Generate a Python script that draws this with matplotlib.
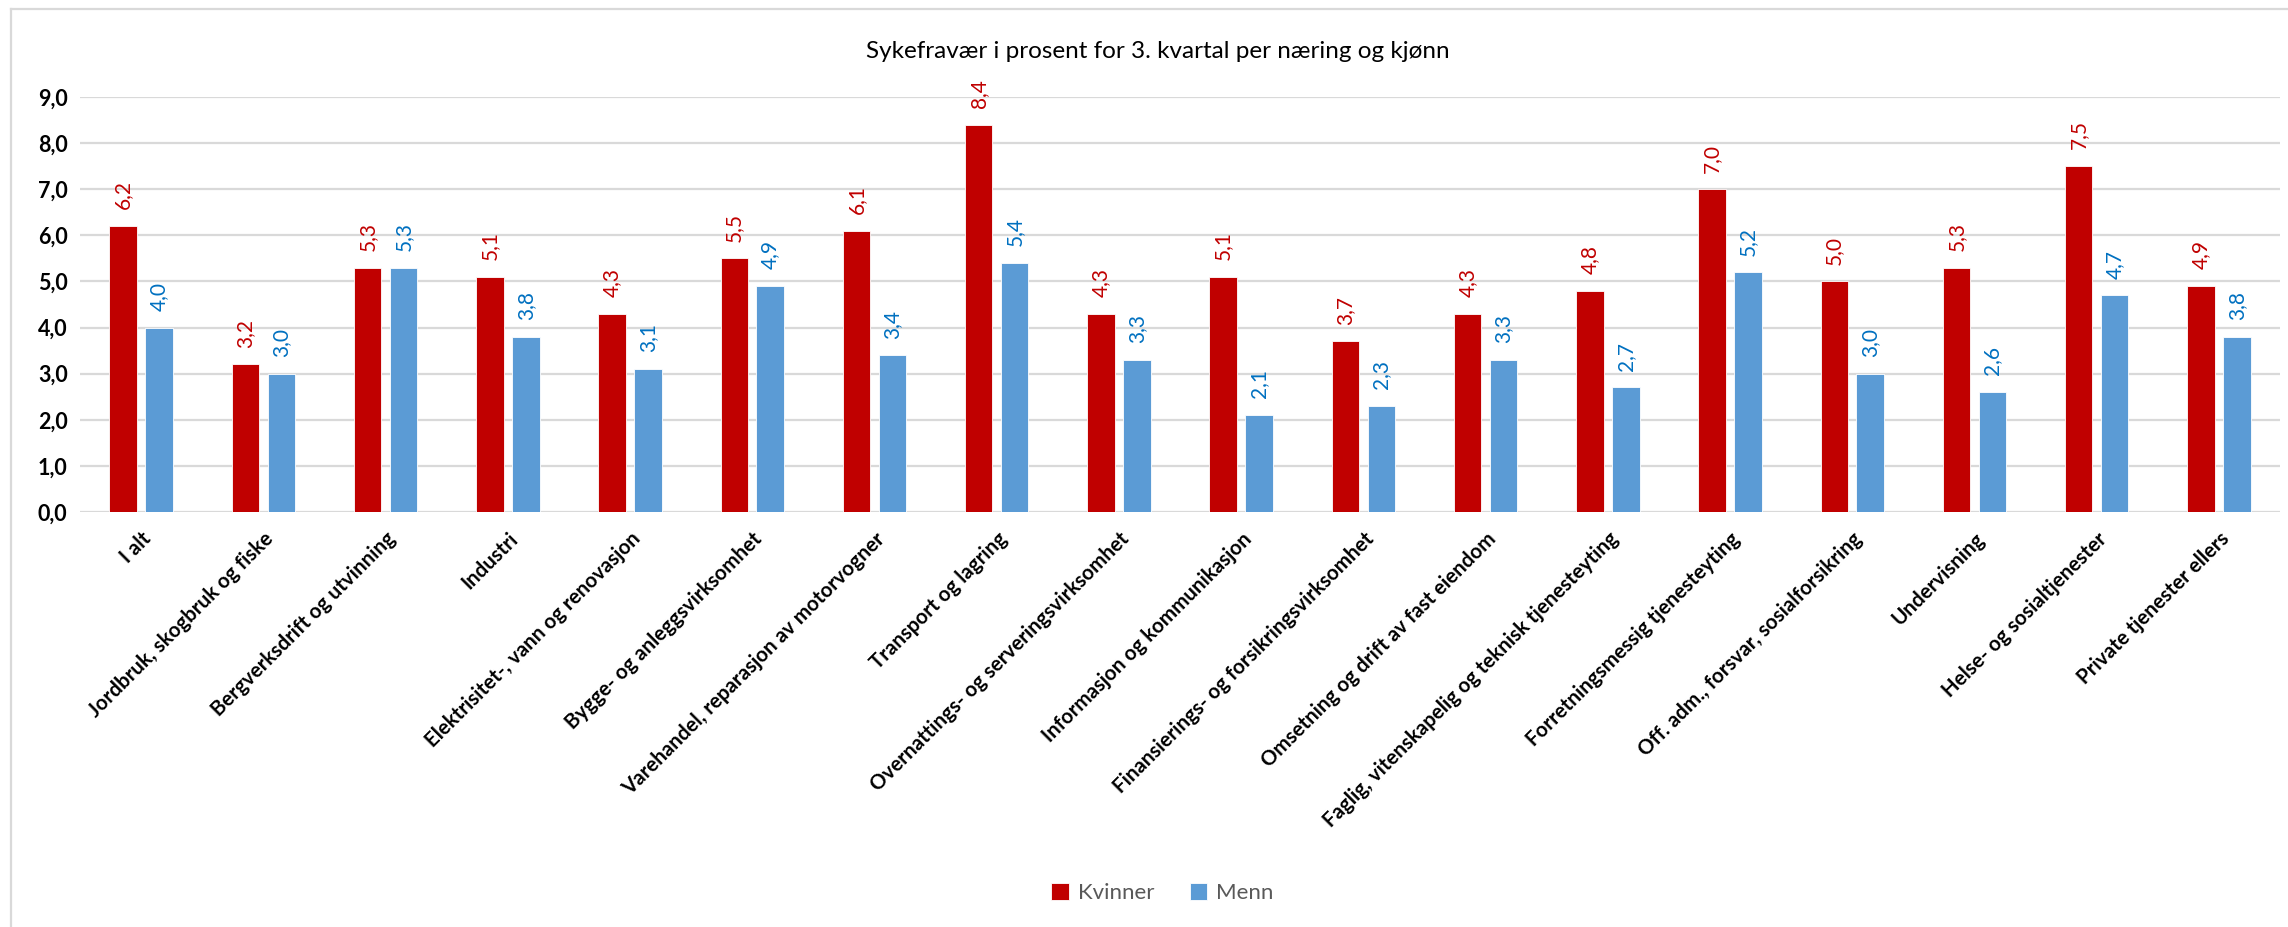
import numpy as np
import matplotlib.pyplot as plt
from matplotlib.lines import Line2D

naeringer = [
    'I alt',
    'Jordbruk, skogbruk og fiske',
    'Bergverksdrift og utvinning',
    'Industri',
    'Elektrisitet-, vann og renovasjon',
    'Bygge- og anleggsvirksomhet',
    'Varehandel, reparasjon av motorvogner',
    'Transport og lagring',
    'Overnattings- og serveringsvirksomhet',
    'Informasjon og kommunikasjon',
    'Finansierings- og forsikringsvirksomhet',
    'Omsetning og drift av fast eiendom',
    'Faglig, vitenskapelig og teknisk tjenesteyting',
    'Forretningsmessig tjenesteyting',
    'Off. adm., forsvar, sosialforsikring',
    'Undervisning',
    'Helse- og sosialtjenester',
    'Private tjenester ellers',
]
kvinner = [6.2, 3.2, 5.3, 5.1, 4.3, 5.5, 6.1, 8.4, 4.3, 5.1, 3.7, 4.3, 4.8, 7.0, 5.0, 5.3, 7.5, 4.9]
menn = [4.0, 3.0, 5.3, 3.8, 3.1, 4.9, 3.4, 5.4, 3.3, 2.1, 2.3, 3.3, 2.7, 5.2, 3.0, 2.6, 4.7, 3.8]
y_ticks = np.arange(0, 9.5, 1.0)

rod = '#C00000'
bla = '#5B9BD5'
rod_tekst = '#C00000'
bla_tekst = '#0070C0'
grid_farge = '#D9D9D9'

plt.rcParams['font.family'] = ['Lato', 'DejaVu Sans']

fig = plt.figure(figsize=(22.88, 9.27), dpi=100)
ax = fig.add_axes([0.035, 0.4477, 0.9615, 0.4477])

x = np.arange(len(naeringer))
w = 0.225
off = 0.147
b1 = ax.bar(x - off, kvinner, w, color=rod, edgecolor='white', linewidth=0.6, label='Kvinner', zorder=3)
b2 = ax.bar(x + off, menn, w, color=bla, edgecolor='white', linewidth=0.6, label='Menn', zorder=3)

for xi, v in zip(x - off, kvinner):
    ax.annotate(f'{v:.1f}'.replace('.', ','), (xi, v), xytext=(0, 12), textcoords='offset points',
                rotation=90, ha='center', va='bottom', color=rod_tekst, fontsize=15)
for xi, v in zip(x + off, menn):
    ax.annotate(f'{v:.1f}'.replace('.', ','), (xi, v), xytext=(0, 12), textcoords='offset points',
                rotation=90, ha='center', va='bottom', color=bla_tekst, fontsize=15)

ax.set_xlim(-0.5, len(naeringer) - 0.5)
ax.set_ylim(0, 9)
ax.set_yticks(y_ticks)
ax.set_yticklabels([f'{t:.1f}'.replace('.', ',') for t in y_ticks], fontsize=15.5, fontweight='bold')
ax.set_xticks(x)
ax.set_xticklabels(naeringer, rotation=45, ha='right', va='top', rotation_mode='anchor',
                   fontsize=14.8, fontweight='bold')
ax.tick_params(axis='both', length=0)
ax.tick_params(axis='x', pad=12)
ax.tick_params(axis='y', pad=9)
ax.grid(axis='y', color=grid_farge, linewidth=1.6, zorder=0)
for s in ax.spines.values():
    s.set_visible(False)

fig.text(0.506, 1 - 52 / 927, 'Sykefravær i prosent for 3. kvartal per næring og kjønn',
         ha='center', va='center', fontsize=17.5, color='#000000')

fig.legend(handles=[b1, b2], labels=['Kvinner', 'Menn'], loc='center', bbox_to_anchor=(0.508, 0.037),
           ncol=2, frameon=False, fontsize=16, labelcolor='#595959',
           handlelength=0.8, handleheight=0.8, handletextpad=0.4, columnspacing=1.6)

fig.add_artist(Line2D([11 / 2288, 11 / 2288], [0, 1 - 9 / 927], transform=fig.transFigure,
                      color=grid_farge, linewidth=1.6))
fig.add_artist(Line2D([11 / 2288, 1], [1 - 9 / 927, 1 - 9 / 927], transform=fig.transFigure,
                      color=grid_farge, linewidth=1.6))

fig.savefig('out.png', dpi=100)
